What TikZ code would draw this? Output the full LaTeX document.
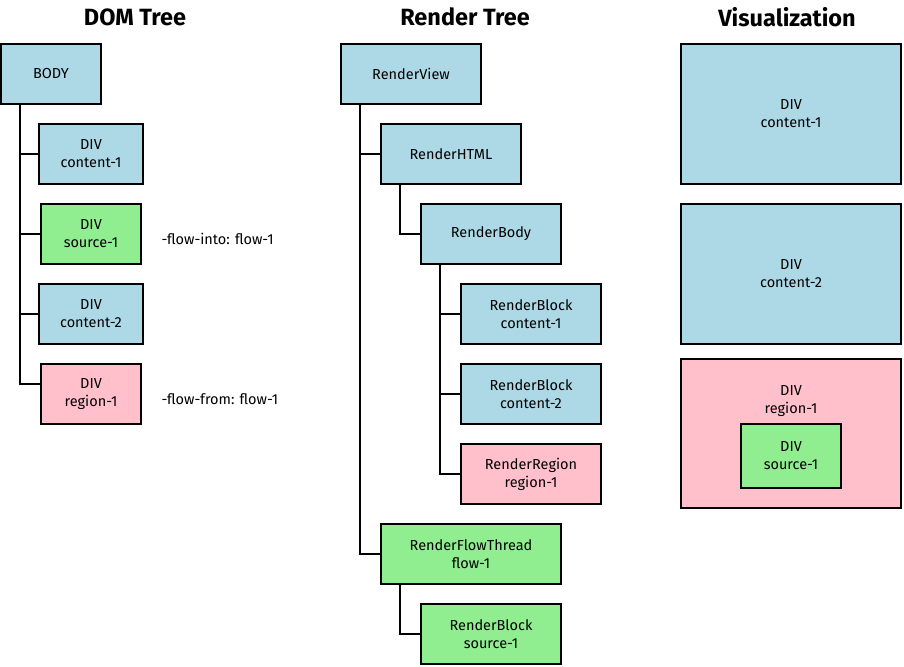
\documentclass[tikz,border=0pt]{standalone}
\usepackage{fontspec}
\setmainfont{Fira Sans}
\usetikzlibrary{positioning}

\begin{document}
\begin{tikzpicture}[x=1pt, y=-1pt,
        box/.style={draw=black, line width=2pt, align=center, inner sep=2pt,
                font=\fontsize{14.5}{18}\selectfont, minimum height=60pt},
        content/.style={box, fill=lightblue},
        source/.style={box, fill=lightgreen},
        region/.style={box, fill=pinkish},
        treeline/.style={line width=2pt, line cap=rect},
        heading/.style={font=\fontsize{23.5}{28}\selectfont\bfseries},
        note/.style={font=\fontsize{14.5}{18}\selectfont, anchor=west}]
    \definecolor{lightblue}{HTML}{ADD8E6}
    \definecolor{lightgreen}{HTML}{90EE90}
    \definecolor{pinkish}{HTML}{FFC0CB}
    \useasboundingbox (0,0) rectangle (904,666);

        % titles
        \node[heading] (domtitle) at (135,17) {DOM Tree};
        \node[heading] (rendertitle) at (465,17) {Render Tree};
        \node[heading] (vistitle) at (787,17) {Visualization};

        % DOM tree
        \node[content, minimum width=100pt] (body) at (51,74) {BODY};
        \node[content, minimum width=104pt] (domcontA) at (91,154) {DIV\\content-1};
        \node[source, minimum width=100pt] (domsource) at (91,234) {DIV\\source-1};
        \node[content, minimum width=104pt] (domcontB) at (91,314) {DIV\\content-2};
        \node[region, minimum width=100pt] (domregion) at (91,394) {DIV\\region-1};
        \node[note] (flowinto) at (158,239) {-flow-into: flow-1};
        \node[note] (flowfrom) at (158,399) {-flow-from: flow-1};
        \coordinate (bodytrunk) at ([xshift=20pt]body.south west);
        \foreach \child/\y in {domcontA/154, domsource/234, domcontB/314, domregion/384}
            \draw[treeline] (bodytrunk) |- (\child.west |- 0,\y);

        % render tree
        \node[content, minimum width=140pt] (view) at (411,74) {RenderView};
        \node[content, minimum width=140pt] (html) at (451,154) {RenderHTML};
        \node[content, minimum width=140pt] (rbody) at (491,234) {RenderBody};
        \node[content, minimum width=140pt] (blockA) at (531,314) {RenderBlock\\content-1};
        \node[content, minimum width=140pt] (blockB) at (531,394) {RenderBlock\\content-2};
        \node[region, minimum width=140pt] (rregion) at (531,474) {RenderRegion\\region-1};
        \node[source, minimum width=180pt] (thread) at (471,554) {RenderFlowThread\\flow-1};
        \node[source, minimum width=140pt] (blockC) at (491,634) {RenderBlock\\source-1};
        \coordinate (viewtrunk) at ([xshift=20pt]view.south west);
        \coordinate (htmltrunk) at ([xshift=20pt]html.south west);
        \coordinate (rbodytrunk) at ([xshift=20pt]rbody.south west);
        \coordinate (threadtrunk) at ([xshift=20pt]thread.south west);
        \draw[treeline] (viewtrunk) |- (html.west);
        \draw[treeline] (viewtrunk) |- (thread.west);
        \draw[treeline] (htmltrunk) |- (rbody.west);
        \draw[treeline] (rbodytrunk) |- (blockA.west);
        \draw[treeline] (rbodytrunk) |- (blockB.west);
        \draw[treeline] (rbodytrunk) |- (rregion.west);
        \draw[treeline] (threadtrunk) |- (blockC.west);

        % visualization
        \node[content, minimum width=220pt, minimum height=140pt] (viscontA) at (791,114) {DIV\\content-1};
        \node[content, minimum width=220pt, minimum height=140pt] (viscontB) at (791,274) {DIV\\content-2};
        \node[region, minimum width=220pt, minimum height=149pt] (visregion) at (791,433.5) {};
        \node[font=\fontsize{14.5}{18}\selectfont, align=center] (visregionlabel) at (791,401) {DIV\\region-1};
        \node[source, minimum width=100pt, minimum height=64pt] (vissource) at (791,456) {DIV\\source-1};
\end{tikzpicture}
\end{document}
